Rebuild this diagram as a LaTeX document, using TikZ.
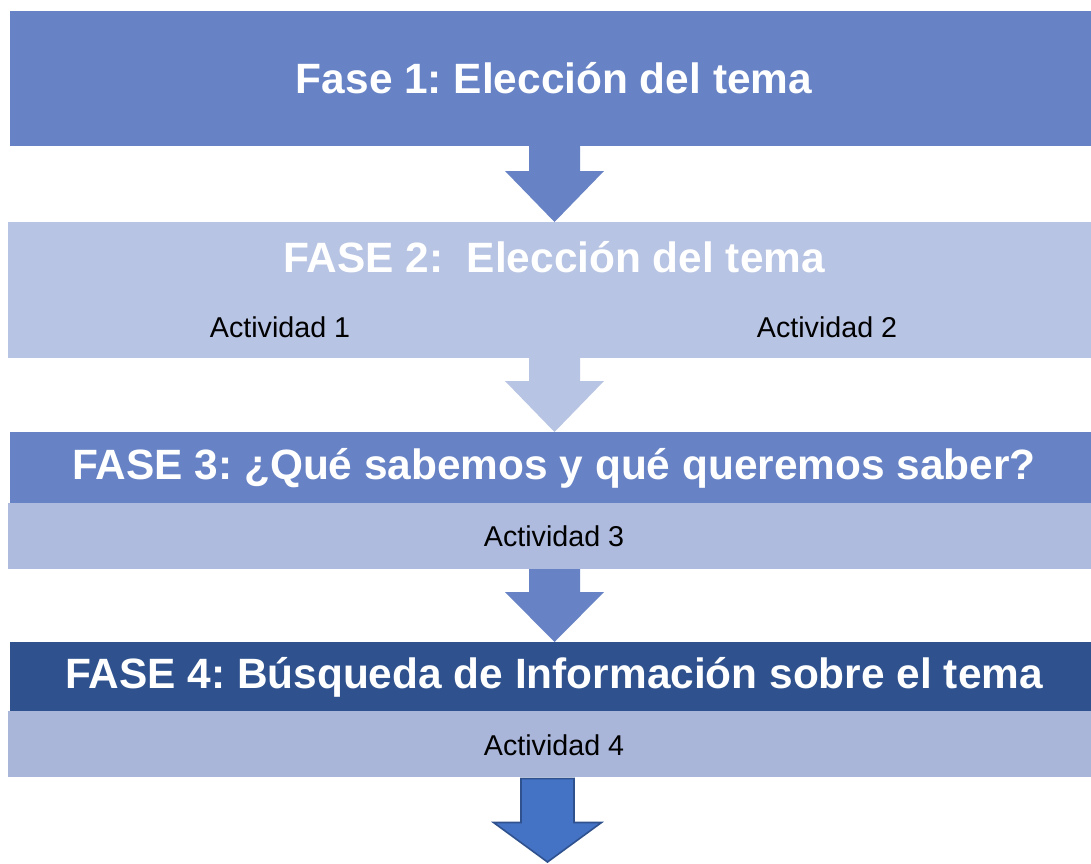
\documentclass[tikz,border=0pt]{standalone}
\usepackage{fontspec}
\setmainfont{Liberation Sans}
\usetikzlibrary{calc}
\frenchspacing
\definecolor{midblue}{RGB}{103,131,197}
\definecolor{paleblue}{RGB}{184,196,227}
\definecolor{subblue}{RGB}{174,187,223}
\definecolor{subblueb}{RGB}{169,182,218}
\definecolor{darkblue}{RGB}{47,82,143}
\definecolor{brightblue}{RGB}{68,114,196}
\tikzset{
  band/.style={anchor=north west, inner sep=0pt, outer sep=0pt},
  titletext/.style={text=white, font=\fontsize{31.8}{38}\selectfont\bfseries, inner sep=0pt},
  acttext/.style={text=black, font=\fontsize{21.5}{26}\selectfont, inner sep=0pt},
}
\begin{document}
\begin{tikzpicture}[x=0.75pt,y=-0.75pt]
\clip (0,0) rectangle (1091,863);
\fill[white] (0,0) rectangle (1091,863);

% Phase 1
\node[band, fill=midblue, minimum width=1089*0.75pt, minimum height=135*0.75pt] (b1) at (10,11) {};
\node[titletext] (t1) at (554,78.5) {Fase 1: Elección del tema};

% Phase 2
\node[band, fill=paleblue, minimum width=1091*0.75pt, minimum height=136*0.75pt] (b2) at (8,222) {};
\node[titletext] (t2) at (554,257) {FASE 2:\ \ Elección del tema};
\node[acttext] (a1) at (280,327) {Actividad 1};
\node[acttext] (a2) at (827,327) {Actividad 2};

% Phase 3
\node[band, fill=midblue, minimum width=1089*0.75pt, minimum height=71*0.75pt] (b3) at (10,432) {};
\node[band, fill=subblue, minimum width=1091*0.75pt, minimum height=66*0.75pt] (s3) at (8,503) {};
\node[titletext] (t3) at (554,468) {FASE 3: ¿Qué sabemos y qué queremos saber?};
\node[acttext] (a3) at (554,536) {Actividad 3};

% Phase 4
\node[band, fill=darkblue, minimum width=1089*0.75pt, minimum height=69*0.75pt] (b4) at (10,642) {};
\node[band, fill=subblueb, minimum width=1091*0.75pt, minimum height=66*0.75pt] (s4) at (8,711) {};
\node[titletext] (t4) at (554,677) {FASE 4: Búsqueda de Información sobre el tema};
\node[acttext] (a4) at (554,745) {Actividad 4};

% Arrows
\coordinate (p1s) at (b1.south -| 554.5,0);
\coordinate (p1t) at (b2.north -| 554.5,0);
\fill[midblue] ($(p1s)+(-25.5,0)$) -- ($(p1s)+(25.5,0)$) -- ($(p1s)+(25.5,25)$) -- ($(p1s)+(49.5,25)$) -- (p1t) -- ($(p1s)+(-49.5,25)$) -- ($(p1s)+(-25.5,25)$) -- cycle;

\coordinate (p2s) at (b2.south -| 554.5,0);
\coordinate (p2t) at (b3.north -| 554.5,0);
\fill[paleblue] ($(p2s)+(-25.5,0)$) -- ($(p2s)+(25.5,0)$) -- ($(p2s)+(25.5,23)$) -- ($(p2s)+(49.5,23)$) -- (p2t) -- ($(p2s)+(-49.5,23)$) -- ($(p2s)+(-25.5,23)$) -- cycle;

\coordinate (p3s) at (s3.south -| 554.5,0);
\coordinate (p3t) at (b4.north -| 554.5,0);
\fill[midblue] ($(p3s)+(-25.5,0)$) -- ($(p3s)+(25.5,0)$) -- ($(p3s)+(25.5,23)$) -- ($(p3s)+(49.5,23)$) -- (p3t) -- ($(p3s)+(-49.5,23)$) -- ($(p3s)+(-25.5,23)$) -- cycle;

\coordinate (p4s) at ($(s4.south -| 547.5,0)+(0,1.5)$);
\coordinate (p4t) at (547.5,862);
\filldraw[fill=brightblue, draw=darkblue, line width=1.2pt, line join=miter] ($(p4s)+(-26.5,0)$) -- ($(p4s)+(26.5,0)$) -- ($(p4s)+(26.5,44)$) -- ($(p4s)+(54,44)$) -- (p4t) -- ($(p4s)+(-54,44)$) -- ($(p4s)+(-26.5,44)$) -- cycle;
\end{tikzpicture}
\end{document}
